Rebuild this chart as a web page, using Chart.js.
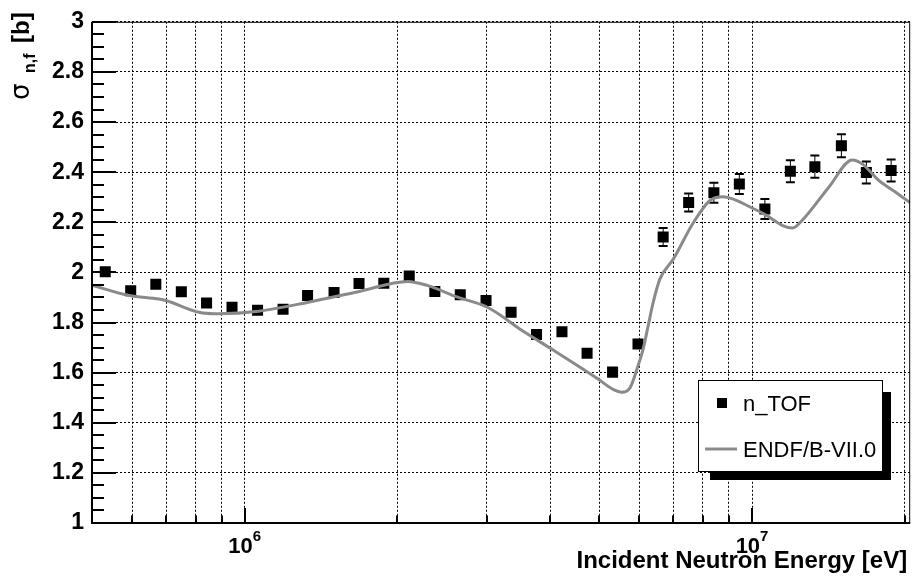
<!DOCTYPE html>
<html>
<head>
<meta charset="utf-8">
<script src="https://cdn.jsdelivr.net/npm/chart.js@4.4.1/dist/chart.umd.min.js"></script>
<style>
  html, body { margin: 0; padding: 0; background: #fff; }
</style>
</head>
<body>
<canvas id="myChart" width="918" height="576"></canvas>
<script>
// n_TOF measured points (energy in eV, cross section in b)
var energy = [5.31e5, 5.96e5, 6.68e5, 7.50e5, 8.41e5, 9.44e5, 1.06e6, 1.19e6,
              1.33e6, 1.50e6, 1.68e6, 1.88e6, 2.11e6, 2.37e6, 2.66e6, 2.99e6,
              3.35e6, 3.76e6, 4.22e6, 4.73e6, 5.31e6, 5.96e6, 6.68e6, 7.50e6,
              8.41e6, 9.44e6, 1.06e7, 1.19e7, 1.33e7, 1.50e7, 1.68e7, 1.88e7];
var sigma = [2.003, 1.927, 1.953, 1.923, 1.878, 1.861, 1.849, 1.853,
             1.908, 1.920, 1.956, 1.957, 1.986, 1.924, 1.911, 1.888,
             1.841, 1.752, 1.763, 1.677, 1.602, 1.714, 2.141, 2.279,
             2.318, 2.353, 2.253, 2.404, 2.422, 2.505, 2.399, 2.407];
var sigmaErr = [0.012, 0.012, 0.012, 0.012, 0.012, 0.012, 0.012, 0.012,
                0.012, 0.012, 0.012, 0.012, 0.012, 0.012, 0.012, 0.014,
                0.015, 0.016, 0.017, 0.018, 0.019, 0.020, 0.036, 0.036,
                0.040, 0.040, 0.040, 0.044, 0.044, 0.046, 0.044, 0.044];

// ENDF/B-VII.0 evaluation
var endfEnergy = [5.0e5, 5.92e5, 6.78e5, 6.99e5, 8.12e5, 8.89e5, 1.065e6, 1.335e6,
                  1.673e6, 2.097e6, 2.296e6, 2.628e6, 3.009e6, 3.552e6, 4.005e6, 4.944e6,
                  5.333e6, 5.536e6, 5.746e6, 5.968e6, 6.105e6, 6.244e6, 6.387e6, 6.58e6,
                  6.99e6, 7.65e6, 8.25e6, 8.76e6, 1.003e7, 1.065e7, 1.149e7, 1.202e7,
                  1.257e7, 1.418e7, 1.576e7, 1.649e7, 1.777e7, 1.916e7, 2.05e7];
var endfSigma = [1.949, 1.908, 1.894, 1.888, 1.841, 1.835, 1.845, 1.881,
                 1.923, 1.964, 1.947, 1.901, 1.861, 1.763, 1.697, 1.578,
                 1.532, 1.522, 1.539, 1.631, 1.697, 1.789, 1.881, 1.973,
                 2.052, 2.196, 2.286, 2.302, 2.256, 2.229, 2.187, 2.177,
                 2.209, 2.341, 2.449, 2.433, 2.367, 2.321, 2.278];

var xGridTicks = [6e5, 7e5, 8e5, 9e5, 1e6, 2e6, 3e6, 4e6, 5e6, 6e6, 7e6, 8e6, 9e6, 1e7, 2e7];
var xLabelTicks = [1e6, 1e7];

var fontName = '"Liberation Sans", Arial, Helvetica, sans-serif';

var errorBars = {
  id: 'errorBars',
  afterDatasetDraw: function(chart, args) {
    if (args.index !== 0) return;
    var c = chart.ctx, ys = chart.scales.y;
    var meta = chart.getDatasetMeta(0);
    c.save();
    c.strokeStyle = '#000';
    meta.data.forEach(function(pt, i) {
      var top = ys.getPixelForValue(sigma[i] + sigmaErr[i]);
      var bot = ys.getPixelForValue(sigma[i] - sigmaErr[i]);
      if (pt.y - top <= 6) return;
      c.lineWidth = 1;
      c.beginPath();
      c.moveTo(pt.x, top); c.lineTo(pt.x, pt.y - 5);
      c.moveTo(pt.x, bot); c.lineTo(pt.x, pt.y + 5);
      c.stroke();
      c.lineWidth = 2;
      c.beginPath();
      c.moveTo(pt.x - 4.5, top); c.lineTo(pt.x + 4.5, top);
      c.moveTo(pt.x - 4.5, bot); c.lineTo(pt.x + 4.5, bot);
      c.stroke();
    });
    c.restore();
  }
};

var rootFrame = {
  id: 'rootFrame',
  afterDraw: function(chart) {
    var a = chart.chartArea, xs = chart.scales.x, ys = chart.scales.y, c = chart.ctx;
    c.save();
    c.strokeStyle = '#000';
    c.fillStyle = '#000';
    // frame
    c.lineWidth = 1;
    c.beginPath();
    c.moveTo(a.left, a.top + 0.5); c.lineTo(a.right - 0.5, a.top + 0.5); c.lineTo(a.right - 0.5, a.bottom);
    c.stroke();
    c.lineWidth = 2;
    c.beginPath();
    c.moveTo(a.left, a.top); c.lineTo(a.left, a.bottom); c.lineTo(a.right, a.bottom);
    c.stroke();

    // y ticks, inside
    c.lineWidth = 2;
    c.beginPath();
    for (var i = 0; i <= 40; i++) {
      var py = Math.round(ys.getPixelForValue(1 + i * 0.05));
      var len = (i % 4 === 0) ? 24 : 12;
      c.moveTo(a.left, py); c.lineTo(a.left + len, py);
    }
    c.stroke();

    // x ticks, inside
    c.beginPath();
    xGridTicks.forEach(function(v) {
      var px = Math.round(xs.getPixelForValue(v));
      var len = xLabelTicks.indexOf(v) >= 0 ? 15 : 7.5;
      c.moveTo(px, a.bottom); c.lineTo(px, a.bottom - len);
    });
    c.stroke();

    // x labels 10^n
    c.textBaseline = 'alphabetic';
    xLabelTicks.forEach(function(v) {
      var px = xs.getPixelForValue(v);
      var ex = String(Math.round(Math.log10(v)));
      c.font = 'bold 22px ' + fontName;
      var w1 = c.measureText('10').width;
      c.font = 'bold 15px ' + fontName;
      var w2 = c.measureText(ex).width;
      var x0 = px - (w1 + w2) / 2;
      c.font = 'bold 22px ' + fontName;
      c.textAlign = 'left';
      c.fillText('10', x0, 553);
      c.font = 'bold 15px ' + fontName;
      c.fillText(ex, x0 + w1, 541);
    });

    // x title
    c.font = 'bold 24px ' + fontName;
    c.textAlign = 'right';
    c.fillText('Incident Neutron Energy [eV]', a.right - 3, 568);

    // y title, rotated
    c.save();
    c.translate(29, 14);
    c.rotate(-Math.PI / 2);
    c.textAlign = 'left';
    c.font = '26px "DejaVu Sans", ' + fontName;
    c.fillText('\u03c3', -86, 0);
    c.font = 'bold 16px ' + fontName;
    c.fillText('n,f', -59, 6);
    c.font = 'bold 24px ' + fontName;
    c.fillText('[b]', -29, 0);
    c.restore();

    // legend box with shadow
    var bx = 698, by = 380, bw = 184, bh = 91;
    c.fillRect(bx + bw, by + 12, 9, bh - 3);
    c.fillRect(bx + 12, by + bh, bw - 3, 9);
    c.fillStyle = '#fff';
    c.fillRect(bx, by, bw, bh);
    c.lineWidth = 1;
    c.strokeRect(bx + 0.5, by + 0.5, bw, bh);
    var ds = chart.data.datasets;
    c.fillStyle = '#000';
    c.fillRect(717, 398, 10, 10);
    c.strokeStyle = ds[1].borderColor;
    c.lineWidth = 3;
    c.beginPath();
    c.moveTo(705, 449); c.lineTo(737, 449);
    c.stroke();
    c.font = '22px ' + fontName;
    c.textAlign = 'left';
    c.fillText(ds[0].label, 743, 411);
    c.fillText(ds[1].label, 743, 457);
    c.restore();
  }
};

var ctx = document.getElementById('myChart').getContext('2d');
var myChart = new Chart(ctx, {
  type: 'scatter',
  data: {
    datasets: [{
        label: 'n_TOF',
        data: energy.map(function(e, i) { return { x: e, y: sigma[i] }; }),
        pointStyle: 'rect',
        pointRadius: 7.8,
        pointBorderWidth: 0,
        backgroundColor: '#000',
        borderColor: '#000',
        order: 1
      }, {
        label: 'ENDF/B-VII.0',
        data: endfEnergy.map(function(e, i) { return { x: e, y: endfSigma[i] }; }),
        showLine: true,
        pointRadius: 0,
        borderColor: '#8a8a8a',
        borderWidth: 3,
        cubicInterpolationMode: 'monotone',
        fill: false,
        order: 0
      }
    ]
  },
  options: {
    responsive: false,
    animation: false,
    layout: { padding: { top: 16, right: 3, left: 0, bottom: 0 } },
    plugins: {
      legend: { display: false },
      tooltip: { enabled: false }
    },
    scales: {
      x: {
        type: 'logarithmic',
        min: 5e5,
        max: 2.05e7,
        afterBuildTicks: function(s) {
          s.ticks = xGridTicks.map(function(v) { return { value: v }; });
        },
        afterFit: function(s) { s.height = 53; },
        ticks: { display: false },
        grid: { color: '#000', lineWidth: 1, drawTicks: false },
        border: { display: false, dash: [2, 2] }
      },
      y: {
        min: 1,
        max: 3,
        afterFit: function(s) { s.width = 92; },
        ticks: {
          stepSize: 0.2,
          padding: 8,
          color: '#000',
          font: { family: fontName, size: 23, weight: 'bold' },
          callback: function(v) { return String(+v.toFixed(1)); }
        },
        grid: { color: '#000', lineWidth: 1, drawTicks: false },
        border: { display: false, dash: [2, 2] }
      }
    }
  },
  plugins: [errorBars, rootFrame]
});
</script>
</body>
</html>
